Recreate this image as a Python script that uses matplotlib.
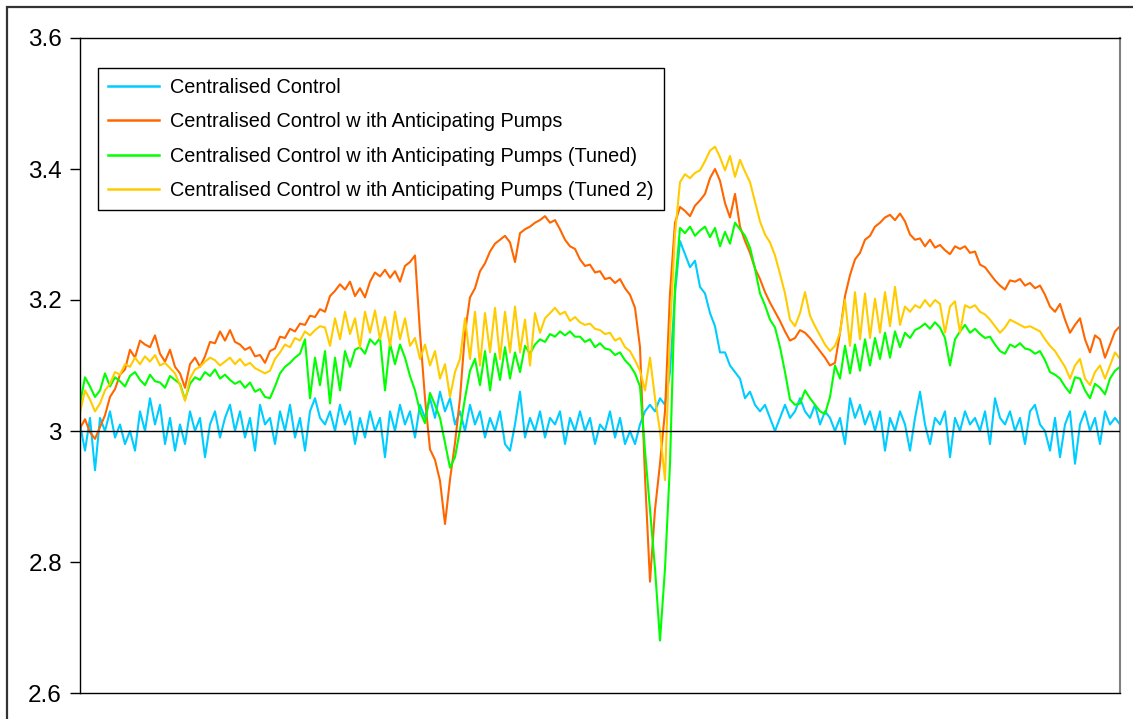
import numpy as np
import matplotlib
matplotlib.use("Agg")
import matplotlib.pyplot as plt
from matplotlib.patches import Rectangle

plt.rcParams['font.family'] = ['Liberation Sans', 'DejaVu Sans']

labels = [
    "Centralised Control",
    "Centralised Control w ith Anticipating Pumps",
    "Centralised Control w ith Anticipating Pumps (Tuned)",
    "Centralised Control w ith Anticipating Pumps (Tuned 2)",
]
colors = ["#00CCFF", "#FF6600", "#00FF00", "#FFCC00"]

y_ticks = [2.6, 2.8, 3.0, 3.2, 3.4, 3.6]
y_tick_labels = ["2.6", "2.8", "3", "3.2", "3.4", "3.6"]

centralised = [
    3.01, 2.97, 3.02, 2.94, 3.02, 3.00, 3.03, 2.99, 3.01, 2.98,
    3.00, 2.97, 3.03, 3.00, 3.05, 3.01, 3.04, 2.98, 3.02, 2.97,
    3.01, 2.98, 3.03, 3.00, 3.02, 2.96, 3.01, 3.03, 2.99, 3.02,
    3.04, 3.00, 3.03, 2.99, 3.02, 2.97, 3.04, 3.01, 3.02, 2.98,
    3.03, 3.00, 3.04, 2.99, 3.02, 2.97, 3.03, 3.05, 3.02, 3.01,
    3.03, 3.00, 3.04, 3.01, 3.03, 2.98, 3.02, 2.99, 3.03, 3.00,
    3.02, 2.96, 3.03, 3.00, 3.04, 3.01, 3.03, 2.99, 3.04, 3.02,
    3.05, 3.02, 3.06, 3.03, 3.05, 3.01, 3.03, 3.00, 3.04, 3.01,
    3.03, 2.99, 3.02, 3.00, 3.03, 2.98, 2.97, 3.01, 3.06, 2.99,
    3.02, 3.00, 3.03, 2.99, 3.02, 3.01, 3.03, 2.98, 3.02, 3.00,
    3.03, 3.00, 3.02, 2.98, 3.01, 3.00, 3.03, 2.99, 3.02, 2.98,
    3.00, 2.98, 3.01, 3.03, 3.04, 3.03, 3.05, 3.04, 3.09, 3.21,
    3.29, 3.27, 3.25, 3.26, 3.22, 3.21, 3.18, 3.16, 3.12, 3.12,
    3.10, 3.09, 3.08, 3.05, 3.06, 3.04, 3.03, 3.04, 3.02, 3.00,
    3.02, 3.04, 3.02, 3.03, 3.05, 3.03, 3.02, 3.04, 3.01, 3.03,
    3.02, 3.00, 3.02, 2.98, 3.05, 3.02, 3.04, 3.01, 3.03, 3.00,
    3.03, 2.97, 3.02, 3.00, 3.03, 3.01, 2.97, 3.02, 3.06, 3.01,
    2.98, 3.02, 3.01, 3.03, 2.96, 3.02, 3.00, 3.03, 3.01, 3.02,
    3.00, 3.03, 2.98, 3.05, 3.02, 3.01, 3.03, 3.00, 3.02, 2.98,
    3.03, 3.04, 3.01, 3.00, 2.97, 3.02, 2.96, 3.01, 3.03, 2.95,
    3.01, 3.03, 3.00, 3.02, 2.98, 3.03, 3.01, 3.02, 3.01,
]

anticipating = [
    3.004, 3.018, 2.998, 2.988, 3.006, 3.024, 3.052, 3.064, 3.086, 3.094,
    3.124, 3.112, 3.138, 3.132, 3.128, 3.146, 3.118, 3.106, 3.124, 3.098,
    3.088, 3.066, 3.102, 3.112, 3.098, 3.114, 3.136, 3.134, 3.152, 3.138,
    3.154, 3.136, 3.132, 3.124, 3.128, 3.114, 3.116, 3.104, 3.122, 3.126,
    3.144, 3.142, 3.156, 3.152, 3.164, 3.162, 3.176, 3.174, 3.186, 3.182,
    3.206, 3.214, 3.224, 3.216, 3.228, 3.206, 3.218, 3.204, 3.228, 3.242,
    3.236, 3.246, 3.234, 3.244, 3.228, 3.252, 3.258, 3.268, 3.150, 3.050,
    2.972, 2.956, 2.924, 2.858, 2.926, 2.982, 3.050, 3.150, 3.204, 3.218,
    3.244, 3.256, 3.274, 3.286, 3.292, 3.298, 3.288, 3.258, 3.302, 3.308,
    3.312, 3.318, 3.322, 3.328, 3.318, 3.322, 3.308, 3.292, 3.282, 3.278,
    3.262, 3.252, 3.254, 3.242, 3.244, 3.232, 3.234, 3.226, 3.232, 3.218,
    3.208, 3.188, 3.128, 2.930, 2.770, 2.880, 2.950, 3.030, 3.210, 3.318,
    3.342, 3.336, 3.328, 3.344, 3.352, 3.362, 3.386, 3.400, 3.382, 3.348,
    3.326, 3.362, 3.312, 3.290, 3.272, 3.248, 3.232, 3.212, 3.196, 3.182,
    3.168, 3.152, 3.138, 3.142, 3.154, 3.150, 3.142, 3.132, 3.122, 3.112,
    3.100, 3.104, 3.150, 3.206, 3.238, 3.262, 3.272, 3.292, 3.298, 3.312,
    3.318, 3.326, 3.330, 3.322, 3.332, 3.320, 3.300, 3.292, 3.294, 3.282,
    3.292, 3.280, 3.284, 3.276, 3.270, 3.282, 3.278, 3.282, 3.272, 3.274,
    3.254, 3.250, 3.240, 3.230, 3.222, 3.216, 3.230, 3.228, 3.232, 3.222,
    3.226, 3.218, 3.222, 3.208, 3.190, 3.182, 3.194, 3.170, 3.150, 3.162,
    3.172, 3.140, 3.120, 3.146, 3.140, 3.112, 3.132, 3.152, 3.160,
]

tuned = [
    3.042, 3.082, 3.068, 3.052, 3.062, 3.088, 3.068, 3.082, 3.076, 3.068,
    3.084, 3.090, 3.078, 3.070, 3.086, 3.076, 3.074, 3.066, 3.084, 3.078,
    3.072, 3.048, 3.072, 3.082, 3.078, 3.090, 3.084, 3.094, 3.080, 3.086,
    3.078, 3.072, 3.076, 3.066, 3.074, 3.060, 3.064, 3.052, 3.050, 3.068,
    3.088, 3.098, 3.104, 3.112, 3.118, 3.140, 3.050, 3.112, 3.070, 3.122,
    3.042, 3.112, 3.062, 3.122, 3.098, 3.124, 3.128, 3.118, 3.140, 3.132,
    3.142, 3.062, 3.134, 3.102, 3.132, 3.112, 3.084, 3.062, 3.030, 3.012,
    3.058, 3.040, 3.020, 2.982, 2.944, 2.960, 3.002, 3.050, 3.092, 3.110,
    3.070, 3.122, 3.062, 3.118, 3.078, 3.128, 3.080, 3.120, 3.090, 3.130,
    3.118, 3.132, 3.140, 3.136, 3.148, 3.144, 3.152, 3.146, 3.152, 3.144,
    3.144, 3.136, 3.140, 3.128, 3.134, 3.126, 3.124, 3.116, 3.120, 3.108,
    3.100, 3.088, 3.068, 2.970, 2.880, 2.790, 2.680, 2.790, 2.950, 3.220,
    3.310, 3.302, 3.312, 3.298, 3.306, 3.312, 3.296, 3.310, 3.282, 3.304,
    3.286, 3.318, 3.308, 3.298, 3.280, 3.248, 3.210, 3.192, 3.170, 3.158,
    3.128, 3.090, 3.048, 3.040, 3.042, 3.062, 3.050, 3.040, 3.030, 3.026,
    3.052, 3.100, 3.080, 3.130, 3.088, 3.132, 3.092, 3.140, 3.100, 3.142,
    3.110, 3.150, 3.112, 3.152, 3.128, 3.150, 3.142, 3.154, 3.158, 3.164,
    3.156, 3.166, 3.158, 3.142, 3.100, 3.140, 3.152, 3.162, 3.150, 3.156,
    3.148, 3.142, 3.144, 3.132, 3.122, 3.118, 3.132, 3.128, 3.134, 3.126,
    3.124, 3.118, 3.122, 3.108, 3.090, 3.086, 3.080, 3.068, 3.058, 3.082,
    3.080, 3.062, 3.050, 3.072, 3.066, 3.056, 3.080, 3.092, 3.098,
]

tuned2 = [
    3.028, 3.062, 3.048, 3.030, 3.042, 3.062, 3.072, 3.090, 3.086, 3.102,
    3.098, 3.112, 3.102, 3.114, 3.106, 3.116, 3.100, 3.104, 3.096, 3.088,
    3.070, 3.046, 3.080, 3.094, 3.098, 3.106, 3.112, 3.108, 3.100, 3.106,
    3.112, 3.102, 3.110, 3.100, 3.104, 3.096, 3.092, 3.088, 3.092, 3.110,
    3.120, 3.132, 3.128, 3.142, 3.138, 3.152, 3.146, 3.154, 3.160, 3.158,
    3.130, 3.172, 3.140, 3.182, 3.148, 3.172, 3.128, 3.182, 3.150, 3.184,
    3.140, 3.174, 3.130, 3.182, 3.140, 3.172, 3.130, 3.142, 3.110, 3.132,
    3.100, 3.122, 3.080, 3.102, 3.052, 3.090, 3.110, 3.172, 3.110, 3.182,
    3.100, 3.180, 3.120, 3.188, 3.110, 3.182, 3.120, 3.190, 3.120, 3.170,
    3.100, 3.180, 3.150, 3.172, 3.180, 3.188, 3.178, 3.182, 3.168, 3.174,
    3.166, 3.162, 3.164, 3.156, 3.154, 3.148, 3.150, 3.138, 3.142, 3.128,
    3.122, 3.108, 3.092, 3.062, 3.112, 3.050, 3.000, 2.925, 3.150, 3.300,
    3.380, 3.392, 3.386, 3.394, 3.398, 3.412, 3.428, 3.434, 3.418, 3.398,
    3.420, 3.388, 3.414, 3.396, 3.380, 3.350, 3.320, 3.300, 3.288, 3.268,
    3.240, 3.210, 3.170, 3.160, 3.180, 3.212, 3.176, 3.160, 3.146, 3.132,
    3.122, 3.130, 3.150, 3.200, 3.130, 3.212, 3.140, 3.210, 3.142, 3.202,
    3.150, 3.212, 3.160, 3.220, 3.162, 3.190, 3.182, 3.192, 3.188, 3.200,
    3.190, 3.200, 3.194, 3.150, 3.190, 3.198, 3.150, 3.192, 3.188, 3.192,
    3.182, 3.178, 3.170, 3.160, 3.150, 3.158, 3.170, 3.166, 3.162, 3.158,
    3.160, 3.156, 3.152, 3.140, 3.130, 3.122, 3.110, 3.098, 3.080, 3.100,
    3.110, 3.080, 3.070, 3.090, 3.100, 3.080, 3.100, 3.120, 3.110,
]

series = [centralised, anticipating, tuned, tuned2]

W, H = 1133, 719
fig = plt.figure(figsize=(W / 100, H / 100), dpi=100)
fig.patch.set_facecolor("white")

# outer chart-area border
fig.add_artist(Rectangle((7 / W, -0.05), 1.1, (H - 7) / H + 0.05,
                         transform=fig.transFigure, fill=False,
                         edgecolor="#333333", linewidth=1.6))

ax = fig.add_axes([80 / W, (H - 693) / H, 1040 / W, 655 / H])

n = len(centralised)
for vals, lab, col in zip(series, labels, colors):
    t = np.arange(len(vals))
    ax.plot(t, vals, color=col, linewidth=1.5, label=lab, zorder=2)

ax.axhline(3.0, color="black", linewidth=1.0, zorder=3)

ax.set_xlim(0, n - 1)
ax.set_ylim(2.6, 3.6)
ax.set_yticks(y_ticks)
ax.set_yticklabels(y_tick_labels)
ax.set_xticks([])
ax.tick_params(axis="y", direction="out", length=7, width=1, pad=6,
               labelsize=17.5, colors="black")

for side in ["left", "bottom", "top"]:
    ax.spines[side].set_color("black")
    ax.spines[side].set_linewidth(1.0)
ax.spines["right"].set_color("#808080")
ax.spines["right"].set_linewidth(1.5)

leg = ax.legend(loc="upper left", bbox_to_anchor=(18 / 1040, (693 - 68) / 655),
                borderaxespad=0, fontsize=14.3, frameon=True, fancybox=False,
                edgecolor="black", framealpha=1, handlelength=2.55,
                handletextpad=0.6, labelspacing=0.78, borderpad=0.5)
leg.get_frame().set_linewidth(1.0)
for line in leg.get_lines():
    line.set_linewidth(1.8)

fig.savefig("out.png", dpi=100)
